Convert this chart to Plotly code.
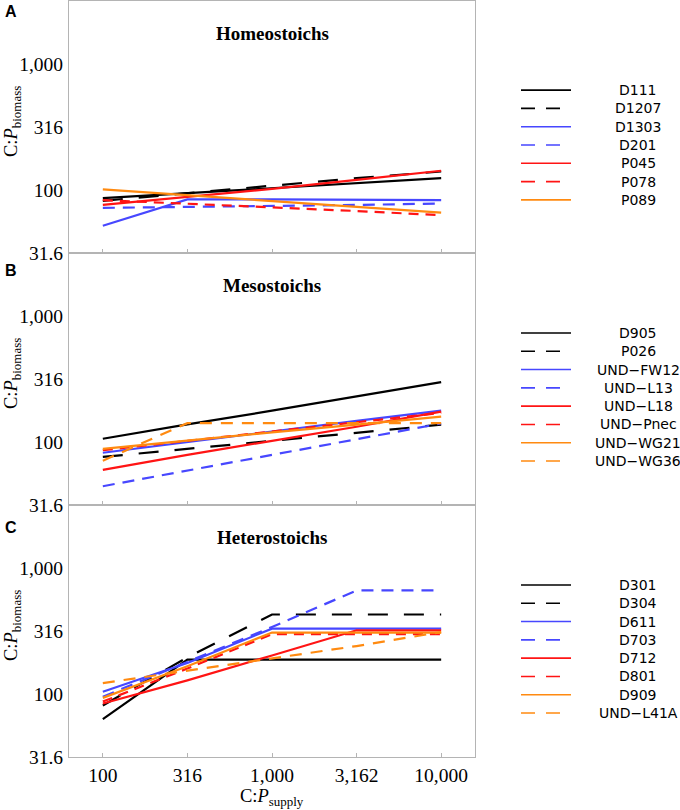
import math
import plotly.graph_objects as go
from plotly.subplots import make_subplots

# ---------------- data ----------------
x_supply = [100, 316, 1000, 3162, 10000]
x_tick_labels = ["100", "316", "1,000", "3,162", "10,000"]
y_tick_vals = [31.6, 100, 316, 1000]
y_tick_labels = ["31.6", "100", "316", "1,000"]

panel_titles = ["Homeostoichs", "Mesostoichs", "Heterostoichs"]
panel_letters = ["A", "B", "C"]

# Panel A - Homeostoichs
a_names = ["D111", "D1207", "D1303", "D201", "P045", "P078", "P089"]
a_d111 = [86, 94, 103, 113, 124]
a_d1207 = [82, 94, 108, 124, 140]
a_d1303 = [52, 84, 84, 83, 83]
a_d201 = [72, 73, 74, 76, 78]
a_p045 = [76, 88, 102, 120, 142]
a_p078 = [83, 78, 73, 68, 63]
a_p089 = [101, 91, 82, 73, 66]

# Panel B - Mesostoichs
b_names = ["D905", "P026", "UND\u2212FW12", "UND\u2212L13", "UND\u2212L18",
           "UND\u2212Pnec", "UND\u2212WG21", "UND\u2212WG36"]
b_d905 = [106, 138, 177, 230, 298]
b_p026 = [76, 88, 102, 119, 137]
b_fw12 = [82, 100, 121, 147, 177]
b_l13 = [44.5, 59, 79, 105, 140]
b_l18 = [60, 79, 102, 132, 174]
b_pnec = [86, 102, 121, 144, 170]
b_wg21 = [88, 103, 119, 137, 159]
b_wg36 = [71, 141, 141, 141, 141]

# Panel C - Heterostoichs
c_names = ["D301", "D304", "D611", "D703", "D712", "D801", "D909", "UND\u2212L41A"]
c_d301 = [63, 187, 187, 187, 187]
c_d304 = [81, 195, 427, 427, 427]
c_d611 = [104, 176, 330, 330, 330]
c_d703 = [95, 180, 340, 663, 663]
c_d712 = [84, 128, 202, 320, 320]
c_d801 = [87, 159, 298, 298, 298]
c_d909 = [93, 166, 307, 307, 307]
c_l41a = [122, 153, 193, 240, 310]

# ---------------- styles ----------------
BLACK, BLUE, RED, ORANGE = "#000000", "#4747ff", "#ff1414", "#ff8a10"
style_colors = [BLACK, BLACK, BLUE, BLUE, RED, RED, ORANGE, ORANGE]
style_dashed = [False, True, False, True, False, True, False, True]
chart_dash = {BLACK: "20px,16px", BLUE: "12px,8px", RED: "10px,7px", ORANGE: "12px,9px"}

panels = [
    (a_names, [a_d111, a_d1207, a_d1303, a_d201, a_p045, a_p078, a_p089]),
    (b_names, [b_d905, b_p026, b_fw12, b_l13, b_l18, b_pnec, b_wg21, b_wg36]),
    (c_names, [c_d301, c_d304, c_d611, c_d703, c_d712, c_d801, c_d909, c_l41a]),
]

GRAY = "#b4b4b4"
SERIF = "Liberation Serif"
SANS = "DejaVu Sans"

fig = make_subplots(rows=3, cols=1, vertical_spacing=0)

shapes = []
annotations = []
PANEL_PX = 252.0
for r, (names, series) in enumerate(panels, start=1):
    for i, (nm, vals) in enumerate(zip(names, series)):
        col = style_colors[i]
        dash = chart_dash[col] if style_dashed[i] else "solid"
        fig.add_trace(go.Scatter(x=x_supply, y=vals, mode="lines", name=nm,
                                 showlegend=False,
                                 line=dict(color=col, width=2.2, dash=dash)),
                      row=r, col=1)
    ysuf = "" if r == 1 else str(r)
    ydom = "y%s domain" % ysuf
    xdom = "x%s domain" % ysuf
    # manual legend
    n = len(names)
    for i, nm in enumerate(names):
        off = 18 + (i - (n - 1) / 2.0) * 18.3
        yy = 0.5 - off / PANEL_PX
        shapes.append(dict(type="line", xref="paper", yref=ydom,
                           x0=(521 - 69) / 406.0, x1=(571 - 69) / 406.0,
                           y0=yy, y1=yy,
                           line=dict(color=style_colors[i], width=1.6,
                                     dash="14px,11px" if style_dashed[i] else "solid")))
        annotations.append(dict(text=nm, xref="paper", yref=ydom,
                                x=(638 - 69) / 406.0, y=yy, xanchor="center",
                                yanchor="middle", showarrow=False,
                                font=dict(family=SANS, size=14, color="black")))
    # panel title
    annotations.append(dict(text="<b>%s</b>" % panel_titles[r - 1], xref=xdom, yref=ydom,
                            x=0.5, y=1 - 32 / PANEL_PX, xanchor="center", yanchor="middle",
                            showarrow=False, font=dict(family=SERIF, size=19, color="black")))
    # y title
    annotations.append(dict(text="C:<i>P</i><sub>biomass</sub>", xref="paper", yref=ydom,
                            x=0, xshift=-57, y=0.5 + 5 / PANEL_PX, xanchor="center",
                            yanchor="middle", textangle=-90, showarrow=False,
                            font=dict(family=SERIF, size=18.5, color="black")))

# panel letters
for letter, py in zip(panel_letters, [11.7, 271, 527]):
    annotations.append(dict(text="<b>%s</b>" % letter, xref="paper", yref="paper",
                            x=(11 - 69) / 406.0, y=(757 - py) / 756.0,
                            xanchor="center", yanchor="middle", showarrow=False,
                            font=dict(family="Liberation Sans", size=16, color="black")))

# x title
annotations.append(dict(text="C:<i>P</i><sub>supply</sub>", xref="paper", yref="paper",
                        x=0.5, y=0, yshift=-40, xanchor="center", yanchor="middle",
                        showarrow=False, font=dict(family=SERIF, size=18.5, color="black")))

y_lo = math.log10(min(y_tick_vals)) - 0.0005
for r in range(1, 4):
    fig.update_xaxes(type="log", range=[1.8, 4.2], tickvals=x_supply, ticktext=x_tick_labels,
                     showticklabels=(r == 3), ticks="inside", ticklen=4, tickcolor=GRAY,
                     showline=True, mirror=True, linecolor=GRAY, linewidth=1.2,
                     showgrid=False, zeroline=False,
                     tickfont=dict(family=SERIF, size=19.5, color="black"),
                     row=r, col=1)
    fig.update_yaxes(type="log", range=[y_lo, 3.5], tickvals=y_tick_vals, ticktext=y_tick_labels,
                     ticks="", showline=True, mirror=True, linecolor=GRAY, linewidth=1.2,
                     showgrid=False, zeroline=False, ticklabelstandoff=1,
                     tickfont=dict(family=SERIF, size=19.5, color="black"),
                     row=r, col=1)

fig.update_layout(width=680, height=810, margin=dict(l=69, r=205, t=1, b=53),
                  paper_bgcolor="white", plot_bgcolor="white",
                  shapes=shapes, annotations=annotations, showlegend=False)

fig.write_html("out.html", config={"displayModeBar": False},
               post_script="document.body.style.margin='0';document.body.style.overflow='hidden';")
